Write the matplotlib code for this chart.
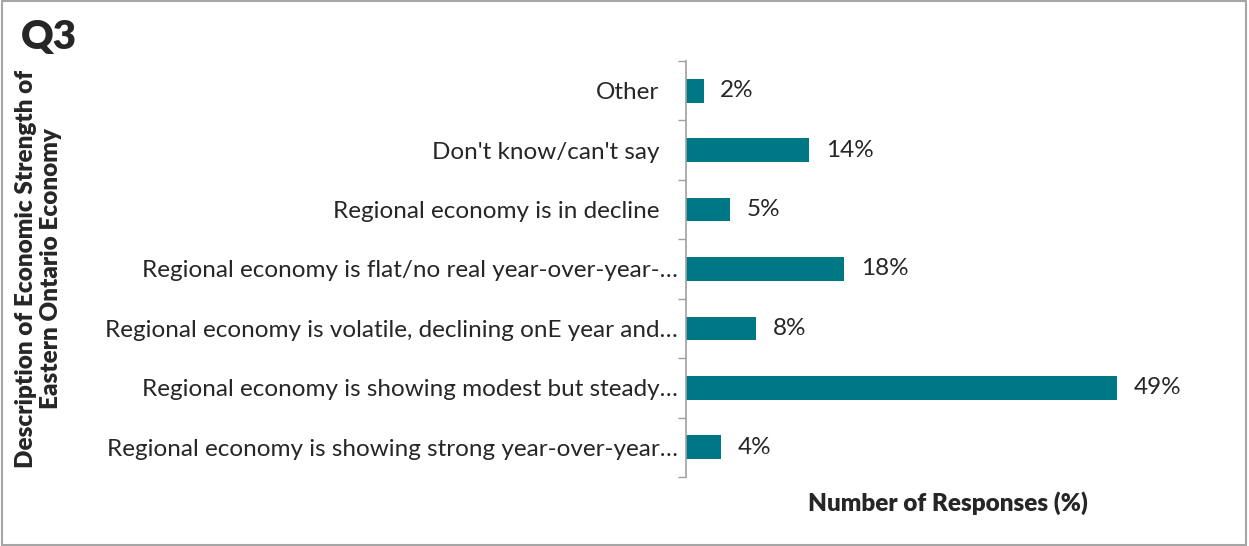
import matplotlib
matplotlib.use("Agg")
import matplotlib.pyplot as plt
import matplotlib.transforms as mtransforms
from matplotlib.patches import Rectangle

plt.rcParams["font.family"] = ["Lato", "DejaVu Sans"]

# Survey responses, bottom to top as drawn
categories = [
    "Regional economy is showing strong year-over-year…",
    "Regional economy is showing modest but steady…",
    "Regional economy is volatile, declining onE year and…",
    "Regional economy is flat/no real year-over-year-…",
    "Regional economy is in decline",
    "Don't know/can't say",
    "Other",
]
values = [4, 49, 8, 18, 5, 14, 2]

bar_color = "#007785"
text_color = "#262626"
fs = 17.5

fig = plt.figure(figsize=(12.49, 5.46), dpi=100)
ax = fig.add_axes([0.5492, 0.1264, 0.4196, 0.7619])

pos = list(range(len(categories)))
ax.barh(pos, values, height=0.4, color=bar_color)

ax.set_xlim(0, 59.6)
ax.set_ylim(-0.5, len(categories) - 0.5)

# value labels
for y, v in zip(pos, values):
    ax.annotate(f"{v}%", (v, y), xytext=(12, 0), textcoords="offset points",
                va="center", ha="left", fontsize=fs, color=text_color)

ax.set_yticks(pos)
ax.set_yticklabels(categories, fontsize=fs, color=text_color)
ax.tick_params(axis="y", which="major", length=0, pad=6)
ax.set_yticks([p - 0.5 for p in pos] + [len(pos) - 0.5], minor=True)
ax.tick_params(axis="y", which="minor", length=6, width=1, color="#A0A0A0", direction="out")

# shorter labels sit a bit further from the axis
for lbl in ax.get_yticklabels():
    if not lbl.get_text().endswith("…"):
        lbl.set_transform(lbl.get_transform() +
                          mtransforms.ScaledTranslation(-18 / 100, 0, fig.dpi_scale_trans))

ax.set_xticks([])
for side in ["top", "right", "bottom"]:
    ax.spines[side].set_visible(False)
ax.spines["left"].set_color("#A0A0A0")
ax.spines["left"].set_linewidth(1.2)

ax.set_xlabel("Number of Responses (%)", fontsize=fs, fontweight="heavy",
              color=text_color, labelpad=10)

fig.text(0.031, 0.508, "Description of Economic Strength of\nEastern Ontario Economy",
         rotation=90, ha="center", va="center", fontsize=fs, fontweight="heavy",
         color=text_color, linespacing=1.15)

fig.text(0.017, 0.91, "Q3", fontsize=29, fontweight="heavy", color=text_color,
         ha="left", va="baseline")

# chart border
fig.patches.append(Rectangle((0.0015, 0.001), 0.996, 0.997, transform=fig.transFigure,
                             fill=False, edgecolor="#A6A6A6", linewidth=1.5))

fig.savefig("out.png", dpi=100)
